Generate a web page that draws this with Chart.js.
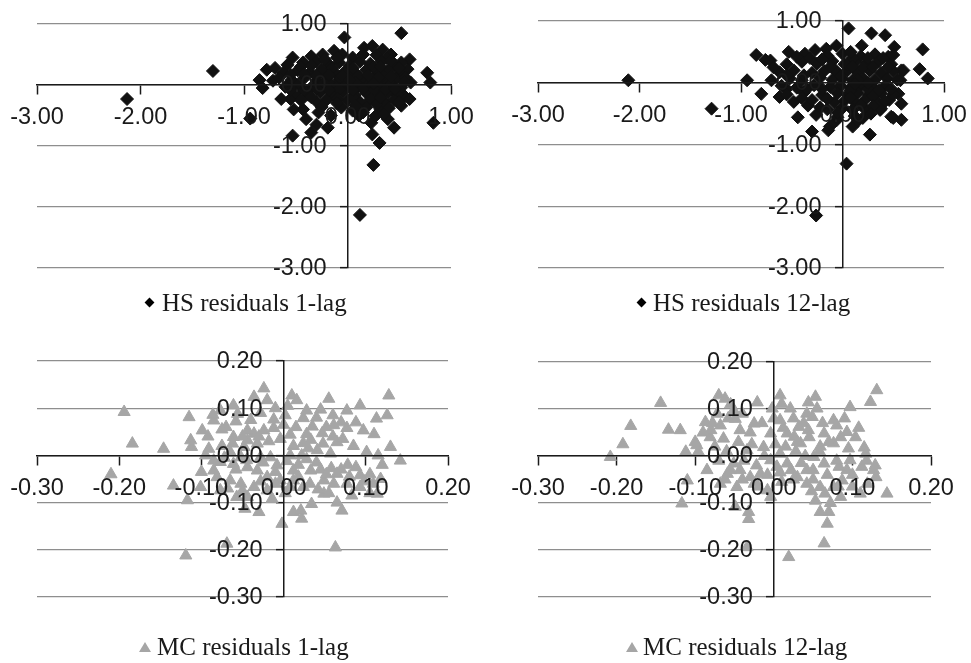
<!DOCTYPE html>
<html>
<head>
<meta charset="utf-8">
<script src="https://cdn.jsdelivr.net/npm/chart.js@4.4.1/dist/chart.umd.min.js"></script>
<style>
body { margin: 0; background: #fff; width: 971px; height: 663px; position: relative; overflow: hidden; }
canvas { position: absolute; }
.leg { position: absolute; font: 25px/24px "Liberation Serif", "Times New Roman", serif; color: #1a1a1a; white-space: nowrap; }
.dia { position: absolute; width: 7px; height: 7px; background: #000; transform: rotate(45deg); }
.tri { position: absolute; width: 0; height: 0; border-left: 6px solid transparent; border-right: 6px solid transparent; border-bottom: 10px solid #a6a6a6; }
</style>
</head>
<body>
<canvas id="c1" width="485" height="330" style="left:0;top:0"></canvas>
<canvas id="c2" width="486" height="330" style="left:485px;top:0"></canvas>
<canvas id="c3" width="485" height="333" style="left:0;top:330px"></canvas>
<canvas id="c4" width="486" height="333" style="left:485px;top:330px"></canvas>

<div class="dia" style="left:146px;top:299px"></div>
<div class="leg" style="left:162px;top:291px">HS residuals 1-lag</div>
<div class="dia" style="left:638px;top:299px"></div>
<div class="leg" style="left:653px;top:291px">HS residuals 12-lag</div>
<div class="tri" style="left:139px;top:642px"></div>
<div class="leg" style="left:157px;top:635px">MC residuals 1-lag</div>
<div class="tri" style="left:626px;top:642px"></div>
<div class="leg" style="left:643px;top:635px">MC residuals 12-lag</div>

<script>
// ticks
const hsTicks = [-3, -2, -1, 0, 1];
const mcXTicks = [-0.3, -0.2, -0.1, 0, 0.1, 0.2];
const mcYTicks = [-0.3, -0.2, -0.1, 0, 0.1, 0.2];

// HS residuals 1-lag (x, y)
const hs1Lag = [
  [-2.13,-0.23],[-1.30,0.23],[-0.94,-0.55],[0.83,-0.62],[0.12,-2.13],[0.25,-1.31],[0.52,0.85],[-0.03,0.78],
  [0.77,0.20],[0.80,0.04],[0.31,-0.95],[0.24,-0.81],[-0.53,-0.83],[-0.35,-0.78],[-0.19,-0.70],[-0.85,0.08],
  [-0.82,-0.05],[-0.78,0.25],[-0.70,0.28],[0.60,0.42],[0.45,-0.70],[0.39,-0.56],[0.58,0.26],[0.61,0.04],
  [0.55,-0.18],[0.60,-0.23],[0.52,-0.34],[0.32,-0.40],[0.23,-0.62],[0.27,-0.51],[0.11,-0.50],[-0.06,-0.37],
  [-0.16,-0.50],[-0.40,-0.56],[-0.43,-0.40],[-0.55,-0.23],[-0.64,-0.23],[-0.52,-0.40],[-0.53,0.45],[-0.43,0.37],
  [-0.24,0.50],[-0.13,0.56],[0.16,0.61],[0.24,0.64],[0.34,0.58],[0.42,0.50],[0.52,0.37],[-0.72,0.07],
  [-0.30,-0.65],[0.05,-0.42],
  [-0.35,0.47],[-0.05,0.50],[0.05,0.45],[0.28,0.49],[0.38,0.44],
  [-0.58,0.33],[-0.30,0.38],[-0.18,0.34],[-0.08,0.37],[0.02,0.32],[0.12,0.38],[0.22,0.35],[0.33,0.39],[0.45,0.31],
  [-0.62,0.20],[-0.48,0.24],[-0.36,0.21],[-0.25,0.25],[-0.12,0.20],[-0.02,0.23],[0.08,0.19],[0.18,0.24],[0.30,0.21],[0.40,0.25],[0.50,0.19],
  [-0.66,0.12],[-0.54,0.08],[-0.42,0.11],[-0.30,0.07],[-0.20,0.12],[-0.08,0.09],[0.03,0.12],[0.14,0.08],[0.25,0.11],[0.36,0.07],[0.47,0.10],[0.56,0.12],
  [-0.60,-0.03],[-0.48,0.00],[-0.35,-0.04],[-0.24,0.01],[-0.12,-0.02],[-0.01,0.02],[0.10,-0.03],[0.20,0.01],[0.31,-0.02],[0.42,0.02],[0.52,-0.04],
  [-0.50,-0.13],[-0.38,-0.16],[-0.26,-0.12],[-0.14,-0.15],[-0.04,-0.11],[0.07,-0.16],[0.18,-0.13],[0.29,-0.15],[0.40,-0.12],[0.48,-0.16],
  [-0.30,-0.27],[-0.20,-0.24],[0.00,-0.26],[0.12,-0.28],[0.22,-0.24],[0.36,-0.27],[0.45,-0.25],
  [-0.25,-0.36],[0.18,-0.37],[0.40,-0.38],
  [-0.15,0.28],[0.05,0.28],[0.25,0.30],[-0.05,0.15],[0.10,0.15],[0.20,0.16],[-0.18,0.04],[0.08,0.04],
  [0.15,-0.06],[-0.08,-0.07],[0.26,-0.07],[0.34,0.15],[0.05,-0.20],[-0.30,0.15],
  [-0.45,0.30],[-0.35,0.32],[-0.22,0.42],[-0.10,0.45],[0.15,0.50],[0.32,0.30],[0.42,0.40],[0.50,0.28],
  [-0.55,0.17],[-0.42,0.18],[-0.18,0.16],[0.02,0.08],[0.30,0.12],[0.42,0.14],[0.55,0.05],
  [-0.55,-0.08],[-0.42,-0.08],[-0.30,-0.06],[-0.18,-0.08],[0.05,-0.08],[0.25,0.03],[0.36,-0.08],[0.46,-0.06],
  [-0.45,-0.25],[-0.35,-0.20],[-0.10,-0.22],[0.08,-0.34],[0.28,-0.32],[0.50,-0.28],[0.32,-0.20],[-0.10,-0.30],
  [0.15,-0.45],[0.35,-0.48],[-0.28,-0.45]
];

// HS residuals 12-lag (x, y)
const hs12Lag = [
  [-2.11,0.04],[-1.29,-0.42],[-0.94,0.04],[-0.80,-0.18],[0.06,0.88],[0.04,-1.31],[-0.26,-2.15],[0.79,0.54],
  [0.76,0.22],[0.84,0.07],[0.285,0.80],[0.42,0.77],[0.51,0.58],[0.27,-0.84],[0.58,-0.34],[0.58,-0.60],
  [0.50,-0.57],[-0.30,-0.79],[-0.125,-0.71],[0.10,-0.71],[-0.44,-0.56],[-0.26,-0.52],[-0.85,0.45],[-0.76,0.37],
  [-0.70,0.04],[-0.53,0.50],[-0.37,0.47],[-0.27,0.53],[0.37,-0.44],[0.46,-0.28],[0.58,0.20],[0.57,0.04],
  [-0.71,0.36],[-0.62,-0.23],[-0.55,-0.10],[-0.34,-0.37],[-0.14,-0.77],[-0.06,-0.61],[0.38,-0.42],[0.48,-0.55],
  [0.55,-0.18],[0.60,0.20],[0.19,0.60],[-0.06,0.60],[-0.16,0.55],
  [-0.15,0.44],[0.00,0.47],[0.18,0.43],[0.32,0.46],[0.45,0.42],
  [-0.55,0.30],[-0.40,0.34],[-0.25,0.31],[-0.10,0.35],[0.02,0.30],[0.12,0.34],[0.24,0.31],[0.36,0.35],[0.48,0.30],
  [-0.62,0.17],[-0.48,0.20],[-0.30,0.16],[-0.18,0.19],[-0.05,0.16],[0.05,0.20],[0.15,0.17],[0.27,0.20],[0.38,0.16],[0.50,0.19],
  [-0.52,0.07],[-0.40,0.04],[-0.22,0.08],[-0.10,0.05],[0.00,0.07],[0.10,0.04],[0.20,0.08],[0.32,0.05],[0.44,0.07],[0.54,0.05],
  [-0.60,-0.05],[-0.45,-0.08],[-0.28,-0.04],[-0.12,-0.07],[-0.02,-0.05],[0.08,-0.08],[0.18,-0.04],[0.30,-0.07],[0.42,-0.05],
  [-0.55,-0.19],[-0.38,-0.16],[-0.20,-0.20],[-0.05,-0.17],[0.05,-0.19],[0.15,-0.16],[0.26,-0.20],[0.38,-0.17],[0.50,-0.19],
  [-0.48,-0.31],[-0.30,-0.28],[-0.08,-0.32],[0.02,-0.29],[0.12,-0.31],[0.22,-0.28],[0.34,-0.32],
  [-0.15,-0.43],[0.00,-0.41],[0.10,-0.44],[0.22,-0.42],
  [-0.05,-0.56],[0.12,-0.54],[0.20,-0.57],
  [0.05,0.30],[0.15,0.05],[0.08,-0.12],[0.25,-0.10],[-0.02,0.12],[0.20,0.25],[0.10,0.40],[-0.08,0.22],[0.30,-0.22],
  [-0.45,0.42],[-0.32,0.40],[-0.20,0.38],[0.08,0.50],[0.25,0.40],[0.40,0.40],[0.50,0.45],
  [-0.68,0.25],[-0.55,0.12],[-0.38,0.12],[-0.12,0.26],[0.10,0.26],[0.30,0.26],[0.45,0.25],
  [-0.35,-0.10],[-0.20,-0.10],[0.12,-0.02],[0.25,0.00],[0.36,-0.12],[0.48,-0.10],
  [-0.40,-0.25],[-0.15,-0.26],[0.08,-0.24],[0.18,-0.36],[0.30,-0.38],[0.42,-0.30],[-0.05,-0.48],[0.15,-0.62],
  [0.28,-0.50],[-0.22,-0.40]
];

// MC residuals 1-lag (x, y)
const mc1Lag = [
  [-0.194,0.092],[-0.184,0.025],[-0.210,-0.040],[-0.146,0.014],[-0.134,-0.064],[-0.117,-0.095],[-0.119,-0.212],[-0.115,0.081],
  [-0.113,0.032],[-0.112,0.018],[-0.099,0.053],[-0.101,-0.067],[-0.091,0.014],[-0.085,0.074],[-0.086,0.086],[-0.077,0.095],
  [-0.061,0.106],[-0.056,0.088],[-0.036,0.124],[-0.024,0.142],[-0.020,0.117],[-0.069,-0.187],[-0.047,-0.113],[-0.030,-0.120],
  [-0.002,-0.145],[-0.014,-0.092],[0.010,0.127],[0.016,0.117],[0.012,-0.120],[0.022,-0.134],[0.021,-0.117],[0.034,-0.103],
  [0.063,-0.195],[0.055,0.120],[0.045,0.097],[0.077,0.095],[0.093,0.106],[0.097,0.053],[0.113,0.078],[0.126,0.085],
  [0.128,0.127],[0.130,0.018],[0.142,-0.011],[0.101,0.007],[0.115,0.000],[0.114,-0.081],[0.071,-0.117],[0.065,-0.100],
  [0.049,-0.081],[0.083,-0.085],[0.093,-0.042],[0.105,-0.040],[0.078,-0.020],[0.058,-0.027],[0.045,-0.030],[0.065,0.028],
  [0.077,0.058],[0.061,0.064],[0.047,0.047],[0.035,0.061],[0.024,0.079],[0.033,0.033],[0.024,0.026],[0.022,0.000],
  [0.033,-0.032],[0.012,-0.032],[0.008,0.000],[0.008,0.044],[0.000,0.065],[0.002,0.085],[-0.012,0.058],[-0.012,0.076],
  [-0.024,0.053],[-0.036,0.046],[-0.044,0.053],[-0.032,0.025],[-0.048,0.018],[-0.061,0.039],[-0.065,0.007],[-0.077,-0.014],
  [-0.061,-0.018],[-0.044,-0.025],[-0.032,-0.032],[-0.020,-0.046],[-0.008,-0.021],[-0.016,-0.004],[-0.036,-0.067],[-0.052,-0.060],
  [-0.065,-0.053],[-0.081,-0.046],[-0.077,-0.074],[-0.057,-0.088],[-0.044,-0.088],[-0.020,-0.074],[-0.085,-0.032],[-0.085,-0.011],
  [0.049,-0.053],[0.061,-0.060],[0.077,-0.060],[0.093,-0.067],[0.109,-0.060],[0.024,-0.067],[0.008,-0.067],[0.041,0.011],
  [0.057,0.004],[0.012,-0.053],[-0.004,-0.053],[0.065,-0.039],[-0.028,-0.004],[-0.052,-0.004],[-0.044,0.032],
  [-0.070,0.060],[-0.058,0.072],[-0.040,0.075],[-0.028,0.090],[-0.010,0.100],[0.005,0.105],[0.028,0.095],[0.040,0.080],[0.060,0.085],[0.070,0.070],
  [-0.075,0.020],[-0.062,0.025],[-0.050,0.040],[-0.030,0.040],[-0.018,0.030],[-0.004,0.035],[0.012,0.020],[0.030,0.015],[0.048,0.025],[0.060,0.040],
  [0.072,0.035],[0.085,0.020],
  [-0.072,-0.005],[-0.058,-0.030],[-0.045,-0.010],[-0.025,-0.015],[-0.010,-0.035],[0.004,-0.012],[0.018,-0.020],[0.028,-0.008],[0.040,-0.015],
  [0.052,-0.040],[0.070,-0.030],[0.088,-0.025],[0.098,-0.055],
  [-0.068,-0.070],[-0.050,-0.075],[-0.028,-0.055],[-0.010,-0.060],[0.002,-0.080],[0.018,-0.045],[0.032,-0.060],[0.042,-0.072],[0.055,-0.080],[0.080,-0.045],
  [-0.095,0.000],[-0.100,-0.035],[-0.092,0.040],[-0.075,0.055],[0.015,0.060],[0.028,0.045],[0.052,0.060],[0.088,0.070],[0.110,0.045],[0.120,-0.020],
  [0.105,-0.080],[0.118,-0.050]
];

// MC residuals 12-lag (x, y)
const mc12Lag = [
  [-0.208,-0.002],[-0.192,0.025],[-0.182,0.064],[-0.144,0.113],[-0.134,0.056],[-0.119,0.055],[-0.112,0.009],[-0.117,-0.101],
  [-0.110,-0.052],[-0.098,0.023],[-0.087,0.072],[-0.096,0.009],[-0.070,0.129],[-0.062,0.122],[-0.051,0.097],[-0.068,0.065],
  [-0.081,0.040],[-0.064,0.037],[-0.049,0.079],[-0.043,0.055],[-0.025,0.069],[-0.021,0.114],[-0.034,0.012],[-0.051,-0.016],
  [-0.059,-0.038],[-0.047,-0.066],[-0.049,-0.108],[-0.032,-0.119],[-0.032,-0.134],[-0.034,-0.194],[-0.068,-0.059],[-0.085,-0.030],
  [-0.017,-0.038],[-0.025,-0.059],[-0.008,-0.073],[-0.004,-0.087],[-0.002,0.101],[0.008,0.129],[0.010,0.111],[0.021,0.101],
  [0.008,0.076],[-0.004,0.048],[0.017,0.048],[0.032,0.062],[0.026,0.041],[0.008,0.005],[0.017,-0.016],[0.004,-0.023],
  [0.019,-0.215],[0.034,0.027],[0.044,0.055],[0.042,0.090],[0.044,0.114],[0.053,0.126],[0.055,0.101],[0.049,0.083],
  [0.064,0.048],[0.076,0.076],[0.080,0.065],[0.076,0.027],[0.059,0.020],[0.051,-0.002],[0.064,-0.016],[0.042,-0.030],
  [0.030,-0.045],[0.042,-0.059],[0.059,-0.066],[0.053,-0.095],[0.059,-0.119],[0.070,-0.119],[0.068,-0.144],[0.064,-0.186],
  [0.076,-0.066],[0.093,-0.030],[0.097,-0.009],[0.095,0.016],[0.093,0.051],[0.097,0.104],[0.104,0.040],[0.115,0.018],
  [0.117,0.005],[0.112,-0.023],[0.127,-0.030],[0.129,-0.020],[0.110,-0.080],[0.123,0.115],[0.131,0.140],[0.144,-0.080],
  [0.119,-0.059],[0.087,-0.052],[0.083,-0.023],[-0.004,-0.009],[-0.013,0.019],[-0.043,-0.030],[-0.030,-0.045],[0.085,-0.087],
  [-0.080,0.055],[-0.072,0.090],[-0.058,0.080],[-0.040,0.090],[-0.030,0.050],[-0.015,0.070],[0.000,0.080],[0.012,0.060],[0.025,0.080],[0.038,0.070],
  [-0.075,0.020],[-0.060,0.010],[-0.045,0.030],[-0.028,0.025],[-0.012,0.000],[0.002,0.025],[0.015,0.020],[0.028,0.010],[0.040,0.000],[0.058,0.010],
  [0.070,0.030],[0.085,0.040],
  [-0.070,-0.010],[-0.055,-0.030],[-0.038,-0.010],[-0.022,-0.020],[-0.008,-0.040],[0.008,-0.035],[0.022,-0.030],[0.035,-0.015],[0.050,-0.030],
  [0.068,-0.040],[0.080,-0.010],[0.100,-0.040],
  [-0.062,-0.050],[-0.040,-0.050],[-0.020,-0.065],[0.010,-0.055],[0.025,-0.050],[0.050,-0.050],[0.065,-0.080],[0.082,-0.065],[0.072,-0.100],[0.048,-0.075],
  [-0.090,0.050],[-0.100,0.030],[-0.078,0.070],[-0.055,0.110],[0.030,0.030],[0.045,0.040],[0.062,0.070],[0.090,0.080],[0.108,0.060],[0.118,-0.010],
  [0.100,-0.065],[0.130,-0.045]
];

const TICK_FONT = '23.5px "Liberation Sans", Arial, sans-serif';
const TICK_COLOR = '#1a1a1a';

function fmt(v) { return Number(v).toFixed(2); }

// labels sit beside the zero-crossing axes and are painted above the markers
const crossLabels = {
  id: 'crossLabels',
  afterDatasetsDraw(chart) {
    const { ctx } = chart;
    const sx = chart.scales.x, sy = chart.scales.y;
    const x0 = sx.getPixelForValue(0), y0 = sy.getPixelForValue(0);
    ctx.save();
    ctx.font = TICK_FONT;
    ctx.fillStyle = TICK_COLOR;
    ctx.textAlign = 'center';
    ctx.textBaseline = 'middle';
    sx.ticks.forEach(t => ctx.fillText(fmt(t.value), sx.getPixelForValue(t.value), y0 + 33));
    ctx.textAlign = 'right';
    sy.ticks.forEach(t => ctx.fillText(fmt(t.value), x0 - 21, sy.getPixelForValue(t.value) + 1));
    ctx.restore();
  }
};

function makeChart(id, points, cfg) {
  new Chart(document.getElementById(id), {
    type: 'scatter',
    data: {
      datasets: [{
        data: points.map(p => ({ x: p[0], y: p[1] })),
        pointStyle: cfg.style,
        pointRadius: cfg.radius,
        pointHoverRadius: cfg.radius,
        backgroundColor: cfg.color,
        borderColor: cfg.color,
        borderWidth: 1
      }]
    },
    options: {
      responsive: false,
      animation: false,
      events: [],
      layout: { padding: cfg.pad },
      plugins: { legend: { display: false }, tooltip: { enabled: false } },
      scales: {
        x: {
          type: 'linear', min: cfg.xTicks[0], max: cfg.xTicks[cfg.xTicks.length - 1],
          position: { y: 0 },
          afterBuildTicks: s => { s.ticks = cfg.xTicks.map(v => ({ value: v })); },
          ticks: { display: false },
          grid: { drawOnChartArea: false, drawTicks: true, tickLength: 9, tickColor: TICK_COLOR, tickWidth: 1.5 },
          border: { color: TICK_COLOR, width: 1.5, z: 1 }
        },
        y: {
          type: 'linear', min: cfg.yTicks[0], max: cfg.yTicks[cfg.yTicks.length - 1],
          position: { x: 0 },
          afterBuildTicks: s => { s.ticks = cfg.yTicks.map(v => ({ value: v })); },
          ticks: { display: false },
          grid: { color: '#8e8e8e', lineWidth: 1.3, drawTicks: true, tickLength: 7, tickColor: TICK_COLOR, tickWidth: 1.5 },
          border: { color: TICK_COLOR, width: 1.5, z: 1 }
        }
      }
    },
    plugins: [crossLabels]
  });
}

makeChart('c1', hs1Lag, { style: 'rectRot', radius: 6.5, color: '#111', xTicks: hsTicks, yTicks: hsTicks,
  pad: { left: 37, right: 34, top: 24, bottom: 62 } });
makeChart('c2', hs12Lag, { style: 'rectRot', radius: 6.5, color: '#111', xTicks: hsTicks, yTicks: hsTicks,
  pad: { left: 53, right: 27, top: 21, bottom: 62 } });
makeChart('c3', mc1Lag, { style: 'triangle', radius: 7, color: '#a6a6a6', xTicks: mcXTicks, yTicks: mcYTicks,
  pad: { left: 37, right: 37, top: 31, bottom: 66 } });
makeChart('c4', mc12Lag, { style: 'triangle', radius: 7, color: '#a6a6a6', xTicks: mcXTicks, yTicks: mcYTicks,
  pad: { left: 53, right: 40, top: 32, bottom: 66 } });
</script>
</body>
</html>
